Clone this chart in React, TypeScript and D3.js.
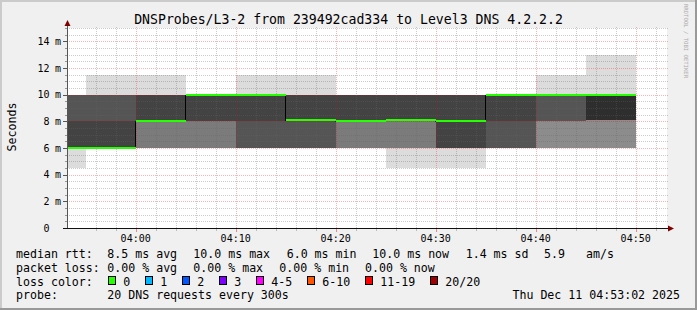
import React from "react";
import * as d3 from "d3";

// ---------- data ----------
const binStarts = ["03:50", "03:55", "04:00", "04:05", "04:10", "04:15", "04:20", "04:25", "04:30", "04:35", "04:40", "04:45"];
const medianMs = [6.0, 6.0, 8.0, 10.0, 10.0, 8.1, 8.0, 8.1, 8.0, 10.0, 10.0, 10.0];
const smokeMinMs = [4.5, 6.0, 6.0, 6.0, 6.0, 6.0, 6.0, 4.5, 4.5, 6.0, 6.0, 6.0];
const smokeMaxMs = [10.0, 11.5, 11.5, 10.0, 11.5, 11.5, 10.0, 10.0, 10.0, 10.0, 11.5, 13.0];
const lowerQuartMs = [6.0, 6.0, 6.0, 6.0, 6.0, 6.0, 6.0, 6.0, 6.0, 6.0, 6.0, 6.0];
const midSplitMs = [8.0, 8.0, 8.0, 8.0, 8.0, 8.0, 8.0, 8.0, 8.0, 8.0, 8.0, 8.1];
const upperQuartMs = [10.0, 10.0, 10.0, 10.0, 10.0, 10.0, 10.0, 10.0, 10.0, 10.0, 10.0, 10.0];
const lowerDensity = [4, 4, 2, 2, 3, 3, 2, 2, 4, 3, 1, 1];
const upperDensity = [3, 3, 4, 4, 4, 4, 4, 4, 4, 4, 3, 5];

const yTickValues = [0, 2, 4, 6, 8, 10, 12, 14];
const yUnit = "m";
const xTickLabels = ["04:00", "04:10", "04:20", "04:30", "04:40", "04:50"];

const title = "DNSProbes/L3-2 from 239492cad334 to Level3 DNS 4.2.2.2";
const yAxisTitle = "Seconds";
const medianLabel = "median rtt:";
const medianStats = ["8.5 ms avg", "10.0 ms max", "6.0 ms min", "10.0 ms now", "1.4 ms sd", "5.9", "am/s"];
const lossLabel = "packet loss:";
const lossStats = ["0.00 % avg", "0.00 % max", "0.00 % min", "0.00 % now"];
const lossColorLabel = "loss color:";
const lossBuckets = ["0", "1", "2", "3", "4-5", "6-10", "11-19", "20/20"];
const lossColors = ["#26ff00", "#00b8ff", "#0059ff", "#7e00ff", "#ff00ff", "#ff5500", "#ff0000", "#a10000"];
const probeLabel = "probe:";
const probeText = "20 DNS requests every 300s";
const dateText = "Thu Dec 11 04:53:02 2025";
const watermark = "RRDTOOL / TOBI OETIKER";

// ---------- layout ----------
const W = 697, H = 310;
const L = 67, R = 667, T = 28, B = 228;
const medianX = [107.3, 193.3, 286.7, 372.3, 465.7, 544, 586];
const lossX = [107.3, 193.3, 279.3, 365];
const densityGray = ["#dcdcdc", "#8c8c8c", "#7b7b7b", "#555555", "#434343", "#2e2e2e"];
const MONO = "'DejaVu Sans Mono', monospace";

const parseT = (s: string) => {
  const [h, m, sec] = s.split(":").map(Number);
  return new Date(2025, 11, 11, h, m, sec || 0);
};

export default function App() {
  const start = parseT("03:53:08");
  const end = parseT("04:53:08");
  const x = d3.scaleTime().domain([start, end]).range([L, R]);
  const y = d3.scaleLinear().domain([0, 15]).range([B, T]);

  const bins = binStarts.map((s, i) => {
    const t0 = parseT(s);
    const t1 = d3.timeMinute.offset(t0, 5);
    return { i, x0: x(t0), x1: x(t1) };
  });

  const minorX = d3.timeMinute.every(2)!.range(d3.timeMinute.offset(start, 1), end).filter((d) => d.getMinutes() % 10 !== 0);
  const majorX = xTickLabels.map(parseT);
  const minorY = d3.range(0.5, 15.01, 0.5).filter((v) => v % 2 !== 0);
  const majorY = yTickValues.filter((v) => v > 0);

  const py = (v: number) => Math.round(y(v)) + 0.5;
  const px = (d: Date) => Math.round(x(d)) + 0.5;

  // median step black path
  let stepPath = "";
  bins.forEach((b, i) => {
    const yy = Math.round(y(medianMs[i])) + 0.5;
    const x0 = Math.max(b.x0, L);
    stepPath += (i === 0 ? `M${x0},${yy}` : `L${b.x0},${yy}`) + `L${b.x1},${yy}`;
  });

  const fontLegend = { fontFamily: MONO, fontSize: 11.6 };

  // loss color legend positions derived from text lengths
  const swatchX: number[] = [];
  let cx = 108.3;
  lossBuckets.forEach((lab) => {
    swatchX.push(cx);
    cx += 30 + 7 * lab.length;
  });

  return (
    <svg width={W} height={H} style={{ position: "absolute", left: 0, top: 0 }} xmlns="http://www.w3.org/2000/svg">
      <defs>
        <clipPath id="plotclip">
          <rect x={L} y={T} width={R - L} height={B - T} />
        </clipPath>
      </defs>
      <rect x={0} y={0} width={W} height={H} fill="#f0f0f0" />
      <rect x={0} y={0} width={W} height={2} fill="#cbcbcb" />
      <rect x={0} y={0} width={2} height={H} fill="#cbcbcb" />
      <rect x={0} y={H - 2} width={W} height={2} fill="#999999" />
      <rect x={W - 2} y={0} width={2} height={H} fill="#999999" />
      <rect x={L} y={T} width={R - L} height={B - T + 1} fill="#ffffff" />

      <g clipPath="url(#plotclip)" shapeRendering="crispEdges">
        {bins.map((b) => (
          <rect key={"s" + b.i} x={b.x0} y={y(smokeMaxMs[b.i])} width={b.x1 - b.x0}
            height={y(smokeMinMs[b.i]) - y(smokeMaxMs[b.i])} fill={densityGray[0]} />
        ))}
        {bins.map((b) => (
          <rect key={"l" + b.i} x={b.x0} y={y(midSplitMs[b.i])} width={b.x1 - b.x0}
            height={y(lowerQuartMs[b.i]) - y(midSplitMs[b.i])} fill={densityGray[lowerDensity[b.i]]} />
        ))}
        {bins.map((b) => (
          <rect key={"u" + b.i} x={b.x0} y={y(upperQuartMs[b.i])} width={b.x1 - b.x0}
            height={y(midSplitMs[b.i]) - y(upperQuartMs[b.i])} fill={densityGray[upperDensity[b.i]]} />
        ))}
      </g>

      {/* grid */}
      <g shapeRendering="crispEdges">
        {minorY.map((v) => (
          <line key={"my" + v} x1={L} x2={R + 2} y1={py(v)} y2={py(v)} stroke="rgba(100,100,100,0.33)" strokeDasharray="1,1" />
        ))}
        {minorX.map((d, i) => (
          <line key={"mx" + i} x1={px(d)} x2={px(d)} y1={T - 1} y2={B} stroke="rgba(100,100,100,0.33)" strokeDasharray="1,1" />
        ))}
        {majorY.map((v) => (
          <line key={"My" + v} x1={L} x2={R + 2} y1={py(v)} y2={py(v)} stroke="rgba(255,0,0,0.3)" strokeDasharray="1,1" />
        ))}
        {majorX.map((d, i) => (
          <line key={"Mx" + i} x1={px(d)} x2={px(d)} y1={T - 1} y2={B} stroke="rgba(255,0,0,0.3)" strokeDasharray="1,1" />
        ))}
      </g>

      {/* median */}
      <g clipPath="url(#plotclip)" shapeRendering="crispEdges">
        <path d={stepPath} fill="none" stroke="#000" strokeWidth={1} />
        {bins.map((b) => (
          <rect key={"g" + b.i} x={b.x0} y={Math.round(y(medianMs[b.i])) - 1} width={b.x1 - b.x0} height={2}
            fill={lossColors[0]} />
        ))}
      </g>

      {/* axes */}
      <g shapeRendering="crispEdges">
        {minorY.map((v) => (
          <line key={"ty" + v} x1={65} x2={L} y1={py(v)} y2={py(v)} stroke="#999" />
        ))}
        {yTickValues.map((v) => (
          <line key={"Ty" + v} x1={63} x2={L} y1={py(v)} y2={py(v)} stroke="#555" />
        ))}
        {minorX.map((d, i) => (
          <line key={"tx" + i} x1={px(d)} x2={px(d)} y1={B + 1} y2={B + 3} stroke="#bbb" />
        ))}
        {majorX.map((d, i) => (
          <line key={"Tx" + i} x1={px(d)} x2={px(d)} y1={B + 1} y2={B + 4} stroke="rgba(255,0,0,0.45)" />
        ))}
        <line x1={L + 0.5} x2={L + 0.5} y1={B + 1} y2={21} stroke="#555" />
        <line x1={63} x2={670} y1={B + 0.5} y2={B + 0.5} stroke="#111" />
      </g>
      <polygon points={`${L - 2.5},${26} ${L + 3.5},${26} ${L + 0.5},${20}`} fill="#800000" />
      <polygon points={`${668},${B - 2.5} ${668},${B + 3.5} ${674},${B + 0.5}`} fill="#800000" />

      {/* y labels */}
      {yTickValues.map((v) => (
        <g key={"yl" + v} fontFamily={MONO} fontSize={10} fill="#000">
          <text x={49.5} y={y(v) + 3.7} textAnchor="end">{String(v)}</text>
          {v !== 0 && <text x={55} y={y(v) + 3.7}>{yUnit}</text>}
        </g>
      ))}
      {/* x labels */}
      {majorX.map((d, i) => (
        <text key={"xl" + i} x={x(d)} y={241.5} textAnchor="middle" fontFamily={MONO} fontSize={10}>
          {d3.timeFormat("%H:%M")(d)}
        </text>
      ))}

      {/* title */}
      <text x={W / 2} y={24} textAnchor="middle" fontFamily={MONO} fontSize={13.2}>{title}</text>
      <text transform={`translate(15.5,${(T + B) / 2 - 1}) rotate(-90)`} textAnchor="middle" fontFamily={MONO} fontSize={11.6}>
        {yAxisTitle}
      </text>
      <text transform="translate(684,4) rotate(90)" fontFamily={MONO} fontSize={5.6} fill="#a8a8a8">{watermark}</text>

      {/* legend */}
      <g {...fontLegend} fill="#000">
        <text x={16} y={258.3}>{medianLabel}</text>
        {medianStats.map((s, i) => (
          <text key={"ms" + i} x={medianX[i]} y={258.3}>{s}</text>
        ))}
        <text x={16} y={271.8}>{lossLabel}</text>
        {lossStats.map((s, i) => (
          <text key={"ls" + i} x={lossX[i]} y={271.8}>{s}</text>
        ))}
        <text x={16} y={285.6}>{lossColorLabel}</text>
        {lossBuckets.map((lab, i) => (
          <g key={"lc" + i}>
            <rect x={Math.round(swatchX[i]) + 0.5} y={276.5} width={7} height={8} fill={lossColors[i]} stroke="#000" shapeRendering="crispEdges" />
            <text x={swatchX[i] + 15} y={285.6}>{lab}</text>
          </g>
        ))}
        <text x={16} y={299.2}>{probeLabel}</text>
        <text x={107.3} y={299.2}>{probeText}</text>
        <text x={680} y={299.2} textAnchor="end">{dateText}</text>
      </g>
    </svg>
  );
}
